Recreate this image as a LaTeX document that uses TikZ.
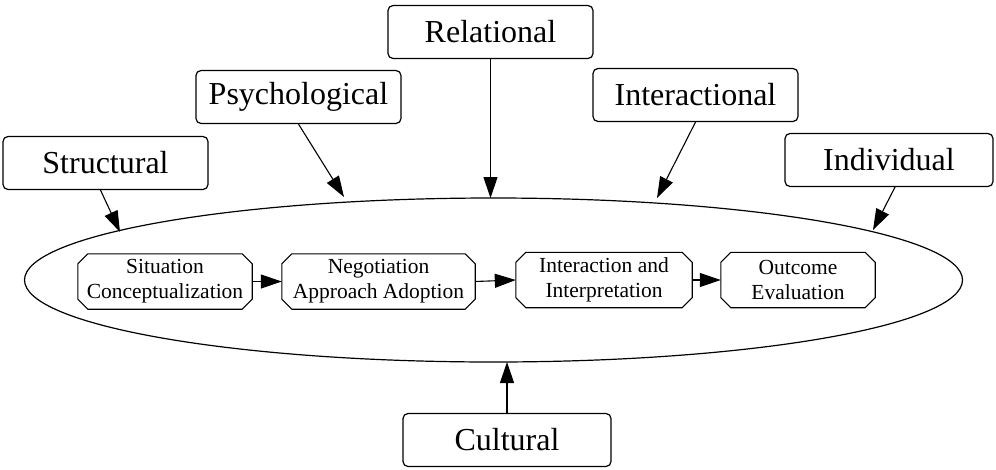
\documentclass[tikz,border=0pt]{standalone}
\usepackage{fontspec}
\setmainfont{Liberation Serif}
\usetikzlibrary{arrows.meta,shapes.geometric,calc}
\tikzset{
  factor/.style={draw, rounded corners=5pt, line width=1.2pt, minimum width=205pt, minimum height=53pt, inner sep=0pt, font=\fontsize{32}{32}\selectfont},
  stagebox/.style={draw=none, minimum height=55pt, inner sep=0pt, align=center, font=\fontsize{21.5}{25}\selectfont},
  arr/.style={line width=1.1pt, -{Triangle[length=21pt,width=14pt]}}
}
\newcommand{\octo}[1]{%
  \draw[line width=1.1pt] ($(#1.north west)+(10pt,0)$) -- ($(#1.north east)+(-10pt,0)$) -- ($(#1.north east)+(0,-10pt)$) -- ($(#1.south east)+(0,10pt)$) -- ($(#1.south east)+(-10pt,0)$) -- ($(#1.south west)+(10pt,0)$) -- ($(#1.south west)+(0,10pt)$) -- ($(#1.north west)+(0,-10pt)$) -- cycle;}
\begin{document}
\begin{tikzpicture}[x=1pt,y=-1pt]
\useasboundingbox (0,0) rectangle (996,469);
% factors
\node[factor] (str) at (105.5,163) {Structural};
\node[factor] (psy) at (298.5,97) {Psychological};
\node[factor] (rel) at (490.5,32) {Relational};
\node[factor] (inter) at (695.5,95) {Interactional};
\node[factor, minimum width=208pt] (ind) at (889,160) {Individual};
\node[factor, minimum width=208pt] (cul) at (507,440) {Cultural};
% ellipse
\node[draw, ellipse, line width=1.2pt, minimum width=938pt, minimum height=164pt, inner sep=0pt] (ell) at (493.5,280) {};
% stages
\node[stagebox, minimum width=174pt] (s1) at (165,281.5) {Situation\\Conceptualization};
\node[stagebox, minimum width=193pt] (s2) at (378.5,281.5) {Negotiation\\Approach Adoption};
\node[stagebox, minimum width=176pt] (s3) at (604,280) {Interaction and\\Interpretation};
\node[stagebox, minimum width=154pt] (s4) at (798,280) {Outcome\\Evaluation};
\octo{s1}\octo{s2}\octo{s3}\octo{s4}
% arrow ends on the ellipse
\coordinate (eStr) at (120,232);
\coordinate (ePsy) at (344,197);
\coordinate (eRel) at (490.5,198);
\coordinate (eInt) at (657,198);
\coordinate (eInd) at (873,230);
\coordinate (eCul) at (507,362);
\draw[arr] ([xshift=-5pt]str.south) -- (eStr);
\draw[arr] (psy.south) -- (ePsy);
\draw[arr] (rel.south) -- (eRel);
\draw[arr] (inter.south) -- (eInt);
\draw[arr] ([xshift=6pt]ind.south) -- (eInd);
\draw[arr] (cul.north) -- (eCul);
% stage arrows
\draw[arr] (s1.east) -- (s2.west);
\draw[arr] (s2.east) -- (s3.west);
\draw[arr] (s3.east) -- (s4.west);
\end{tikzpicture}
\end{document}
